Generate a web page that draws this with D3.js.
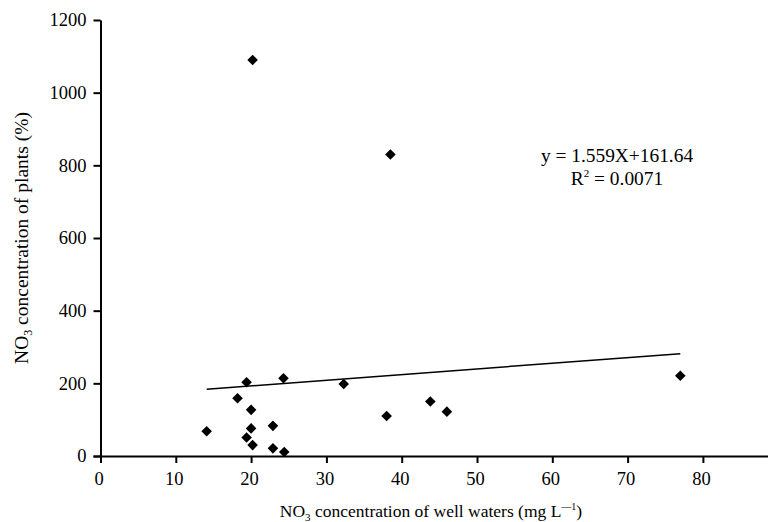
<!DOCTYPE html>
<html>
<head>
<meta charset="utf-8">
<script src="https://cdn.jsdelivr.net/npm/d3@7"></script>
<style>
  body { margin: 0; background: #fff; }
  svg text { font-family: "Liberation Serif", "Times New Roman", serif; fill: #000; }
  .axis path, .axis line { stroke: #000; stroke-width: 2; }
</style>
</head>
<body>
<div id="chart"></div>
<script>
/* data */
var wellNO3 = [20.2, 38.5, 19.4, 24.3, 32.3, 18.2, 20.0, 14.1, 20.0, 22.9, 19.4, 20.2, 22.9, 24.4, 43.8, 46.0, 38.0, 77.0];
var plantNO3 = [1090, 830, 203, 214, 198, 159, 127, 68, 76, 83, 51, 30, 21, 11, 150, 122, 110, 221];
var xTicks = [0, 10, 20, 30, 40, 50, 60, 70, 80];
var yTicks = [0, 200, 400, 600, 800, 1000, 1200];
var fitSlope = 1.559, fitIntercept = 161.64;
var eqLines = ["y = 1.559X+161.64", "R2 = 0.0071"];

var width = 768, height = 522;
var margin = { left: 100.5, right: 0, top: 20, bottom: 66 };

var svg = d3.select("#chart").append("svg")
  .attr("width", width)
  .attr("height", height);

var x = d3.scaleLinear()
  .domain([0, (width - margin.left) / 7.53])
  .range([margin.left, width]);

var y = d3.scaleLinear()
  .domain([0, 1200])
  .range([height - margin.bottom, margin.top]);

// regression line, spans the data
var xMin = d3.min(wellNO3), xMax = d3.max(wellNO3);
svg.append("path")
  .attr("d", d3.line()([[x(xMin), y(fitSlope * xMin + fitIntercept)], [x(xMax), y(fitSlope * xMax + fitIntercept)]]))
  .attr("stroke", "#000")
  .attr("stroke-width", 1.5)
  .attr("fill", "none");

// diamonds
var r = 5.3;
svg.selectAll(".pt")
  .data(d3.zip(wellNO3, plantNO3))
  .enter().append("path")
  .attr("class", "pt")
  .attr("d", d => {
    var cx = x(d[0]), cy = y(d[1]);
    return `M${cx},${cy - r}L${cx + r},${cy}L${cx},${cy + r}L${cx - r},${cy}Z`;
  })
  .attr("fill", "#000");

// axes
var xAxis = svg.append("g")
  .attr("class", "axis")
  .attr("transform", `translate(0,${y(0)})`)
  .call(d3.axisBottom(x).tickValues(xTicks).tickFormat(d3.format("d")).tickSize(7).tickSizeOuter(0).tickPadding(9));
xAxis.select(".domain").attr("d", `M${margin.left - 7},0.5H${width}`);
xAxis.selectAll(".tick text").attr("dx", -2);

var yAxis = svg.append("g")
  .attr("class", "axis")
  .attr("transform", `translate(${margin.left},0)`)
  .call(d3.axisLeft(y).tickValues(yTicks).tickFormat(d3.format("d")).tickSize(7).tickSizeOuter(0).tickPadding(7));

svg.selectAll(".axis").attr("font-size", null).attr("font-family", null);
svg.selectAll(".axis text")
  .style("font-size", "18.5px")
  .style("font-family", "'Liberation Serif', serif");

// axis titles
var xt = svg.append("text")
  .attr("x", 431)
  .attr("y", 517)
  .attr("text-anchor", "middle")
  .style("font-size", "17.5px");
xt.append("tspan").text("NO");
xt.append("tspan").text("3").style("font-size", "11px").attr("dy", 4);
xt.append("tspan").text(" concentration of well waters (mg L").attr("dy", -4);
xt.append("tspan").text("\u2014").style("font-size", "10px").attr("dy", -7);
xt.append("tspan").text("1").style("font-size", "10px");
xt.append("tspan").text(")").attr("dy", 7);

var yt = svg.append("text")
  .attr("transform", "translate(28,238) rotate(-90)")
  .attr("text-anchor", "middle")
  .style("font-size", "19.5px");
yt.append("tspan").text("NO");
yt.append("tspan").text("3").style("font-size", "12px").attr("dy", 4);
yt.append("tspan").text(" concentration of plants (%)").attr("dy", -4);

// equation
svg.append("text")
  .attr("x", 617)
  .attr("y", 162)
  .attr("text-anchor", "middle")
  .style("font-size", "19.4px")
  .text(eqLines[0]);

var r2 = svg.append("text")
  .attr("x", 617)
  .attr("y", 185)
  .attr("text-anchor", "middle")
  .style("font-size", "19.4px");
r2.append("tspan").text("R");
r2.append("tspan").text("2").style("font-size", "11px").attr("dy", -8);
r2.append("tspan").text(eqLines[1].slice(2)).attr("dy", 8);
</script>
</body>
</html>
